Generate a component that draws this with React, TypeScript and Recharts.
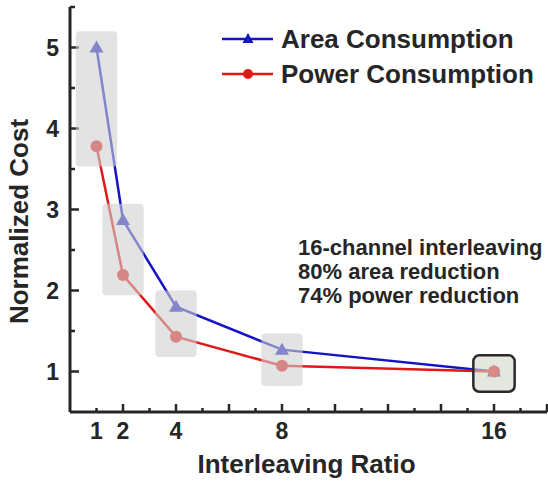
import React from "react";
import {
  LineChart,
  Line,
  XAxis,
  YAxis,
  ReferenceArea,
  Legend,
  Label,
} from "recharts";

const ratios = [1, 2, 4, 8, 16];
const areaCost = [5.0, 2.87, 1.8, 1.27, 1.0];
const powerCost = [3.78, 2.19, 1.43, 1.07, 1.0];

const xTicks = Array.from({ length: 18 }, (_, i) => i + 1);
const xTickLabels = [1, 2, 4, 8, 16];
const yTicks = [1, 1.5, 2, 2.5, 3, 3.5, 4, 4.5, 5, 5.5];
const yTickLabels = [1, 2, 3, 4, 5];

const notes = ["16-channel interleaving", "80% area reduction", "74% power reduction"];

const data = ratios.map((r, i) => ({ ratio: r, area: areaCost[i], power: powerCost[i] }));

const FONT = "'Liberation Sans', Arial, Helvetica, sans-serif";
const INK = "#262626";
const BLUE = "#1414c4";
const RED = "#e01818";

// shaded box around each pair of points
const boxHalfWidth = 0.78;
const boxPadLow = 0.25;
const boxPadHigh = 0.2;

const XTick = (props: any) => {
  const { x, y, payload } = props;
  const v = payload.value;
  const major = v % 2 === 0;
  return (
    <g>
      <line x1={x} x2={x} y1={y} y2={y - (major ? 8 : 4)} stroke={INK} strokeWidth={2.5} />
      {xTickLabels.includes(v) && (
        <text x={x} y={y + 27} textAnchor="middle" fontSize={23} fontWeight="bold" fill={INK} fontFamily={FONT}>
          {v}
        </text>
      )}
    </g>
  );
};

const YTick = (props: any) => {
  const { x, y, payload } = props;
  const v = payload.value;
  const major = Number.isInteger(v);
  return (
    <g>
      <line x1={x} x2={x + (major ? 9 : 5)} y1={y} y2={y} stroke={INK} strokeWidth={2.5} />
      {yTickLabels.includes(v) && (
        <text x={x - 11} y={y + 8} textAnchor="end" fontSize={23} fontWeight="bold" fill={INK} fontFamily={FONT}>
          {v}
        </text>
      )}
    </g>
  );
};

const TriangleDot = (props: any) => {
  const { cx, cy } = props;
  if (cx == null || cy == null) return null;
  return <path d={`M${cx},${cy - 7} L${cx + 7},${cy + 5} L${cx - 7},${cy + 5} Z`} fill={BLUE} />;
};

const CircleDot = (props: any) => {
  const { cx, cy } = props;
  if (cx == null || cy == null) return null;
  return <circle cx={cx} cy={cy} r={6} fill={RED} />;
};

const LegendContent = (props: any) => {
  const { payload } = props;
  return (
    <div style={{ fontFamily: FONT }}>
      {(payload || []).map((entry: any) => (
        <div key={entry.value} style={{ display: "flex", alignItems: "center", height: 35 }}>
          <svg width={61} height={20}>
            <line x1={2} x2={53} y1={10} y2={10} stroke={entry.color} strokeWidth={2.5} />
            {entry.dataKey === "area" ? (
              <path d="M28,4 L33.5,14 L22.5,14 Z" fill={entry.color} />
            ) : (
              <circle cx={28} cy={10} r={5} fill={entry.color} />
            )}
          </svg>
          <span style={{ fontSize: 26, fontWeight: "bold", color: INK, lineHeight: "30px" }}>{entry.value}</span>
        </div>
      ))}
    </div>
  );
};

export default function App() {
  return (
    <div style={{ position: "absolute", left: 0, top: 0, width: 548, height: 483, background: "#fff" }}>
      <LineChart width={548} height={483} data={data} margin={{ top: 7, right: 1, left: 0, bottom: 0 }}>
        <XAxis
          dataKey="ratio"
          type="number"
          domain={[0, 18]}
          ticks={xTicks}
          interval={0}
          height={71}
          tickSize={0}
          tickMargin={0}
          tickLine={false}
          axisLine={{ stroke: INK, strokeWidth: 3 }}
          tick={<XTick />}
        >
          <Label
            content={(p: any) => (
              <text
                x={p.viewBox.x + p.viewBox.width / 2 - 2}
                y={p.viewBox.y + 61}
                textAnchor="middle"
                fontSize={26}
                fontWeight="bold"
                fill={INK}
                fontFamily={FONT}
              >
                Interleaving Ratio
              </text>
            )}
          />
        </XAxis>
        <YAxis
          type="number"
          domain={[0.5, 5.5]}
          ticks={yTicks}
          interval={0}
          width={70}
          tickSize={0}
          tickMargin={0}
          tickLine={false}
          axisLine={{ stroke: INK, strokeWidth: 3 }}
          tick={<YTick />}
        >
          <Label
            content={(p: any) => {
              const cx = 19;
              const cy = p.viewBox.y + p.viewBox.height / 2 + 12;
              return (
                <text
                  x={cx}
                  y={cy}
                  transform={`rotate(-90, ${cx}, ${cy})`}
                  textAnchor="middle"
                  dominantBaseline="central"
                  fontSize={26}
                  fontWeight="bold"
                  fill={INK}
                  fontFamily={FONT}
                >
                  Normalized Cost
                </text>
              );
            }}
          />
        </YAxis>
        <Legend
          layout="vertical"
          align="center"
          verticalAlign="middle"
          wrapperStyle={{ top: 21, left: 220, width: 330, height: 72 }}
          content={<LegendContent />}
        />
        <Line
          dataKey="area"
          name="Area Consumption"
          stroke={BLUE}
          strokeWidth={2.5}
          dot={<TriangleDot />}
          activeDot={false}
          isAnimationActive={false}
        />
        <Line
          dataKey="power"
          name="Power Consumption"
          stroke={RED}
          strokeWidth={2.5}
          dot={<CircleDot />}
          activeDot={false}
          isAnimationActive={false}
        />
        {data.map((d, i) => {
          const last = i === data.length - 1;
          return (
            <ReferenceArea
              key={d.ratio}
              x1={d.ratio - boxHalfWidth}
              x2={d.ratio + boxHalfWidth}
              y1={Math.min(d.area, d.power) - boxPadLow}
              y2={Math.max(d.area, d.power) + boxPadHigh}
              zIndex={2500}
              shape={(p: any) => (
                <rect
                  x={p.x}
                  y={p.y}
                  width={p.width}
                  height={p.height}
                  rx={last ? 6 : 4}
                  fill={last ? "#d2d6cc" : "#d0d0d0"}
                  fillOpacity={0.6}
                  stroke={last ? "#2a2a2a" : "none"}
                  strokeWidth={2.5}
                />
              )}
            />
          );
        })}
      </LineChart>
      <div
        style={{
          position: "absolute",
          left: 298,
          top: 236,
          fontFamily: FONT,
          fontSize: 22,
          fontWeight: "bold",
          lineHeight: "24px",
          color: INK,
        }}
      >
        {notes.map((n) => (
          <div key={n}>{n}</div>
        ))}
      </div>
    </div>
  );
}
